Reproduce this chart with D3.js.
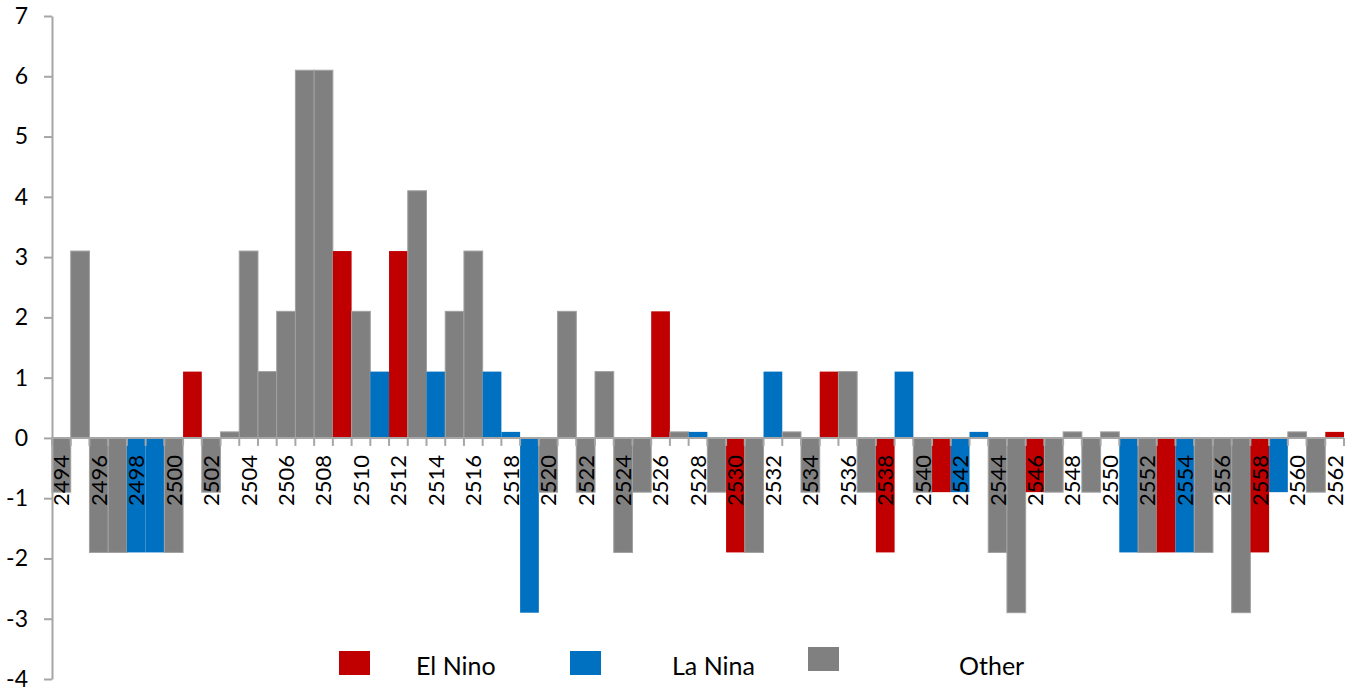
<!DOCTYPE html>
<html>
<head>
<meta charset="utf-8">
<script src="https://cdn.jsdelivr.net/npm/d3@7"></script>
<style>
  body { margin: 0; background: #fff; }
  text { font-family: Lato, 'Open Sans', sans-serif; fill: #000; }
</style>
</head>
<body>
<svg width="1359" height="688"></svg>
<script>
// years 2494..2562
const years = [
  2494, 2495, 2496, 2497, 2498, 2499, 2500, 2501, 2502, 2503,
  2504, 2505, 2506, 2507, 2508, 2509, 2510, 2511, 2512, 2513,
  2514, 2515, 2516, 2517, 2518, 2519, 2520, 2521, 2522, 2523,
  2524, 2525, 2526, 2527, 2528, 2529, 2530, 2531, 2532, 2533,
  2534, 2535, 2536, 2537, 2538, 2539, 2540, 2541, 2542, 2543,
  2544, 2545, 2546, 2547, 2548, 2549, 2550, 2551, 2552, 2553,
  2554, 2555, 2556, 2557, 2558, 2559, 2560, 2561, 2562
];
const values = [
  -0.9, 3.1, -1.9, -1.9, -1.9, -1.9, -1.9, 1.1, -0.9, 0.1,
  3.1, 1.1, 2.1, 6.1, 6.1, 3.1, 2.1, 1.1, 3.1, 4.1,
  1.1, 2.1, 3.1, 1.1, 0.1, -2.9, -0.9, 2.1, -0.9, 1.1,
  -1.9, -0.9, 2.1, 0.1, 0.1, -0.9, -1.9, -1.9, 1.1, 0.1,
  -0.9, 1.1, 1.1, -0.9, -1.9, 1.1, -0.9, -0.9, -0.9, 0.1,
  -1.9, -2.9, -0.9, -0.9, 0.1, -0.9, 0.1, -1.9, -1.9, -1.9,
  -1.9, -1.9, -0.9, -2.9, -1.9, -0.9, 0.1, -0.9, 0.1
];
// E = El Nino, L = La Nina, O = Other
const types = [
  'O', 'O', 'O', 'O', 'L', 'L', 'O', 'E', 'O', 'O',
  'O', 'O', 'O', 'O', 'O', 'E', 'O', 'L', 'E', 'O',
  'L', 'O', 'O', 'L', 'L', 'L', 'O', 'O', 'O', 'O',
  'O', 'O', 'E', 'O', 'L', 'O', 'E', 'O', 'L', 'O',
  'O', 'E', 'O', 'O', 'E', 'L', 'O', 'E', 'L', 'L',
  'O', 'O', 'E', 'O', 'O', 'O', 'O', 'L', 'O', 'E',
  'L', 'O', 'O', 'O', 'E', 'L', 'O', 'O', 'E'
];
const legendNames = ['El Nino', 'La Nina', 'Other'];
const yTicks = [-4, -3, -2, -1, 0, 1, 2, 3, 4, 5, 6, 7];

const colors = { E: '#c00000', L: '#0070c0', O: '#808080' };
const axisColor = '#a6a6a6';

const data = years.map((yr, i) => ({ year: yr, value: values[i], type: types[i] }));

const svg = d3.select('svg');

const x = d3.scaleBand().domain(years).range([52, 1344]).padding(0);
const y = d3.scaleLinear().domain([-4, 7]).range([679, 16]);

// bars
svg.append('g')
  .selectAll('rect')
  .data(data)
  .enter()
  .append('rect')
  .attr('x', d => x(d.year))
  .attr('width', x.bandwidth())
  .attr('y', d => y(Math.max(0, d.value)))
  .attr('height', d => Math.abs(y(d.value) - y(0)))
  .attr('fill', d => colors[d.type])
  .attr('stroke', d => (d.type === 'O' ? '#a0a0a0' : 'none'))
  .attr('stroke-width', 1);

// y axis
const yAxis = svg.append('g')
  .attr('transform', 'translate(52, 0)')
  .call(
    d3.axisLeft(y)
      .tickValues(yTicks)
      .tickFormat(d => String(d))
      .tickSize(8)
      .tickSizeOuter(0)
      .tickPadding(16),
  );
yAxis.select('.domain').attr('stroke', axisColor).attr('stroke-width', 2);
yAxis.selectAll('.tick line').attr('stroke', axisColor).attr('stroke-width', 2);
yAxis.selectAll('.tick text')
  .attr('font-family', 'Lato, sans-serif')
  .attr('font-size', 23)
  .attr('fill', '#000');

// zero line with boundary ticks
const zeroG = svg.append('g');
zeroG.append('line')
  .attr('x1', x.range()[0])
  .attr('x2', x.range()[1])
  .attr('y1', y(0))
  .attr('y2', y(0))
  .attr('stroke', axisColor)
  .attr('stroke-width', 2);

zeroG.selectAll('line.tk')
  .data(years.concat([null]))
  .enter()
  .append('line')
  .attr('class', 'tk')
  .attr('x1', d => (d === null ? x.range()[1] : x(d)))
  .attr('x2', d => (d === null ? x.range()[1] : x(d)))
  .attr('y1', y(0))
  .attr('y2', y(0) + 8)
  .attr('stroke', axisColor)
  .attr('stroke-width', 2);

// year labels, every other one
zeroG.selectAll('text')
  .data(years.filter((_, i) => i % 2 === 0))
  .enter()
  .append('text')
  .attr('transform', d => `translate(${x(d) + x.bandwidth() / 2}, ${y(0) + 17}) rotate(-90)`)
  .attr('text-anchor', 'end')
  .attr('dy', '0.36em')
  .attr('font-size', 22)
  .text(d => d);

// legend
const legendX = [339, 570, 808];
const legendTextX = [416, 672, 959];
const legendKeys = ['E', 'L', 'O'];
const legendG = svg.append('g');
legendG.selectAll('rect')
  .data(legendKeys)
  .enter()
  .append('rect')
  .attr('x', (_, i) => legendX[i])
  .attr('y', (_, i) => (i === 2 ? 647 : 651))
  .attr('width', 31)
  .attr('height', 24)
  .attr('fill', d => colors[d]);
legendG.selectAll('text')
  .data(legendNames)
  .enter()
  .append('text')
  .attr('x', (_, i) => legendTextX[i])
  .attr('y', 675)
  .attr('font-size', 25)
  .text(d => d);
</script>
</body>
</html>
